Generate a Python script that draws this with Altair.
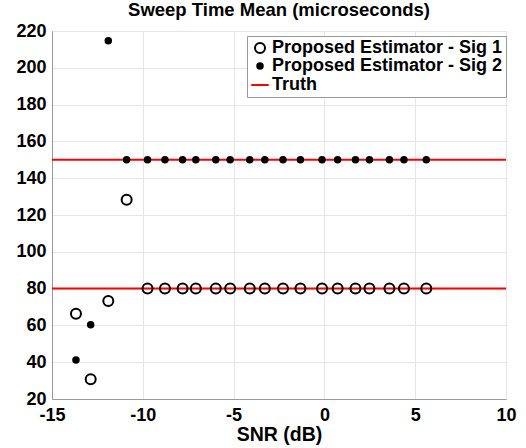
import altair as alt
import pandas as pd

# ---- data ----
series_names = ["Proposed Estimator - Sig 1", "Proposed Estimator - Sig 2", "Truth"]

snr_sig1 = [-13.68, -12.87, -11.90, -10.89, -9.74, -8.78, -7.81, -7.08, -5.98, -5.19,
            -4.11, -3.28, -2.28, -1.32, -0.13, 0.73, 1.71, 2.48, 3.58, 4.38, 5.61]
mean_sig1 = [66.3, 30.7, 73.3, 128.3, 80, 80, 80, 80, 80, 80,
             80, 80, 80, 80, 80, 80, 80, 80, 80, 80, 80]

snr_sig2 = [-13.68, -12.87, -11.90, -10.89, -9.74, -8.78, -7.81, -7.08, -5.98, -5.19,
            -4.11, -3.28, -2.28, -1.32, -0.13, 0.73, 1.71, 2.48, 3.58, 4.38, 5.61]
mean_sig2 = [41.2, 60.4, 214.7, 150, 150, 150, 150, 150, 150, 150,
             150, 150, 150, 150, 150, 150, 150, 150, 150, 150, 150]

truth_values = [80, 150]

x_ticks = [-15, -10, -5, 0, 5, 10]
y_ticks = [20, 40, 60, 80, 100, 120, 140, 160, 180, 200, 220]

# ---- tables ----
pts = pd.DataFrame({
    "snr": snr_sig1 + snr_sig2,
    "mean": mean_sig1 + mean_sig2,
    "series": [series_names[0]] * len(snr_sig1) + [series_names[1]] * len(snr_sig2),
})
truth = pd.DataFrame({"value": truth_values, "series": [series_names[2]] * len(truth_values)})

FONT = "Liberation Sans"

legend = alt.Legend(
    title=None, orient="none", legendX=195, legendY=5,
    labelFont=FONT, labelFontSize=18, labelFontWeight="bold", labelColor="black",
    labelLimit=400, labelOffset=2,
    strokeColor="#999999", fillColor="white", padding=3, rowPadding=0,
    symbolStrokeWidth=2,
)

shape_scale = alt.Scale(domain=series_names, range=["circle", "circle", "stroke"])
fill_scale = alt.Scale(domain=series_names, range=["transparent", "black", "transparent"])
stroke_scale = alt.Scale(domain=series_names, range=["black", "black", "#ff0000"])
size_scale = alt.Scale(type="ordinal", domain=series_names, range=[100, 30, 310])

y_scale = alt.Scale(domain=[20, 220], nice=False, zero=False)
x_scale = alt.Scale(domain=[-15, 10], nice=False, zero=False)

y_axis = alt.Axis(values=y_ticks, title=None, labelFlush=False)
x_axis = alt.Axis(values=x_ticks, title="SNR (dB)", labelFlush=False,
                  labelExpr="'' + datum.value")

rules = alt.Chart(truth).mark_rule(strokeWidth=2).encode(
    y=alt.Y("value:Q", scale=y_scale, axis=y_axis),
    stroke=alt.Stroke("series:N", scale=stroke_scale, legend=legend),
)

points = alt.Chart(pts).mark_point(strokeWidth=2, opacity=1).encode(
    x=alt.X("snr:Q", scale=x_scale, axis=x_axis),
    y=alt.Y("mean:Q", scale=y_scale, axis=y_axis),
    shape=alt.Shape("series:N", scale=shape_scale, legend=legend),
    fill=alt.Fill("series:N", scale=fill_scale, legend=legend),
    stroke=alt.Stroke("series:N", scale=stroke_scale, legend=legend),
    size=alt.Size("series:N", scale=size_scale, legend=legend),
)

chart = alt.layer(rules, points).properties(
    width=454, height=368,
    title=alt.TitleParams("Sweep Time Mean (microseconds)", font=FONT, fontSize=18.5,
                          fontWeight="bold", color="black", offset=3),
    autosize=alt.AutoSizeParams(type="none"),
    padding={"left": 52, "top": 31, "right": 20, "bottom": 49},
).configure_view(
    stroke="#999999", strokeWidth=1,
).configure_axis(
    labelFont=FONT, labelFontSize=18, labelFontWeight="bold", labelColor="black",
    titleFont=FONT, titleFontSize=19.5, titleFontWeight="bold", titleColor="black",
    domainColor="#999999", gridColor="#e6e6e6", gridWidth=1, ticks=False,
    labelOverlap=False,
).configure_axisX(
    labelPadding=7, titlePadding=1,
).configure_axisY(
    labelPadding=6,
)

chart.save("out.html", embed_options={"renderer": "svg", "actions": False})
